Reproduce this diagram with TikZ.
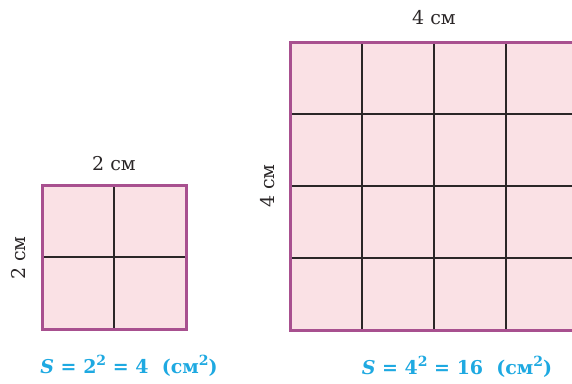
\documentclass[tikz,border=0pt]{standalone}
\usepackage{fontspec}
\setmainfont{DejaVu Serif}
\definecolor{cellpink}{HTML}{FAE1E5}
\definecolor{edgeplum}{HTML}{A8508F}
\definecolor{formulablue}{HTML}{1EA9E1}
\definecolor{inkgrey}{HTML}{2A2627}
\newcommand{\sq}[1]{\raisebox{0.42em}{\fontsize{14}{16}\selectfont #1}}

\begin{document}
\begin{tikzpicture}[x=1pt,y=-1pt,
    side/.style={font=\fontsize{19}{22}\selectfont,text=inkgrey},
    area/.style={font=\fontsize{19}{22}\selectfont\bfseries,text=formulablue,anchor=base},
    cell/.style={draw=inkgrey,line width=1.5pt},
    rim/.style={draw=edgeplum,line width=3pt}]
    \path[use as bounding box,clip] (0,0) rectangle (572,383);

    % small square 2 x 2
    \fill[cellpink] (42,185) rectangle (186,329);
    \draw[cell] (114,185) -- (114,329);
    \draw[cell] (42,257) -- (186,257);
    \draw[rim] (42,185) rectangle (186,329);

    % big square 4 x 4
    \fill[cellpink] (290,42) rectangle (578,330);
    \foreach \k in {1,2,3} {
        \draw[cell] (290+72*\k,42) -- (290+72*\k,330);
        \draw[cell] (290,42+72*\k) -- (578,42+72*\k);
    }
    \draw[rim] (290,42) rectangle (578,330);

    \node[side] (top2) at (114,164) {2 см};
    \node[side,rotate=90] (left2) at (19,258) {2 см};
    \node[side] (top4) at (434,18) {4 см};
    \node[side,rotate=90] (left4) at (268,186) {4 см};

    \node[area] (s2) at (129,373) {{\itshape S} = 2\sq{2} = 4 \ (см\sq{2})};
    \node[area] (s4) at (457,374) {{\itshape S} = 4\sq{2} = 16 \ (см\sq{2})};
\end{tikzpicture}
\end{document}
